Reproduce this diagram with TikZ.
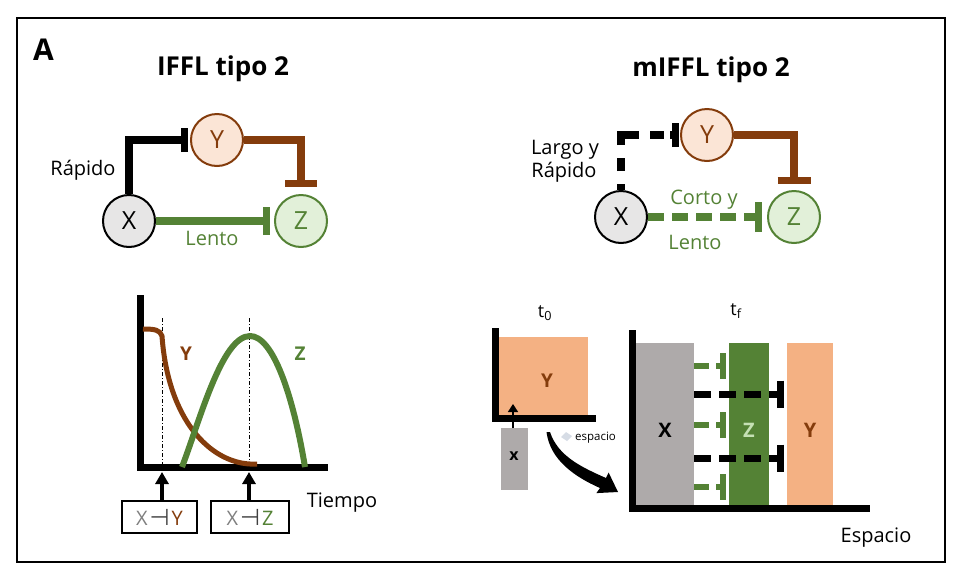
\documentclass[tikz,border=0pt]{standalone}
\usepackage{fontspec}
\setmainfont{Open Sans}
\newfontfamily\dejavu{DejaVu Sans}
\usetikzlibrary{arrows.meta}
\definecolor{brn}{RGB}{132,60,12}
\definecolor{grn}{RGB}{84,130,53}
\definecolor{lorange}{RGB}{251,229,214}
\definecolor{lgreen}{RGB}{226,240,217}
\definecolor{lgray}{RGB}{231,230,230}
\definecolor{orangebox}{RGB}{244,177,131}
\definecolor{graybox}{RGB}{174,170,170}
\definecolor{zlight}{RGB}{197,224,180}
\definecolor{xgray}{RGB}{127,127,127}
\definecolor{smudge}{RGB}{214,220,229}
\newcommand\fs[1]{\fontsize{#1}{#1}\selectfont}
\newcommand\inhsym{\hspace{2pt}{\color{black!75}\dejavu\fs{23}⊣}\hspace{2pt}}
\begin{document}
\begin{tikzpicture}[x=1pt,y=-1pt,
  gene/.style={circle, draw, line width=2pt, minimum size=52pt, inner sep=0pt, font=\fs{25}},
  lbl/.style={font=\fs{20}, inner sep=0pt, anchor=base},
  title/.style={font=\fs{26}\bfseries, inner sep=0pt, anchor=base},
  netline/.style={line width=8pt},
  barline/.style={line width=7pt},
  axisline/.style={line width=7pt},
  blk/.style={inner sep=0pt, outer sep=0pt},
  blab/.style={font=\fs{20}\bfseries, inner sep=0pt},
  tbox/.style={draw, line width=1.5pt, minimum width=75pt, minimum height=32pt, inner sep=0pt, font=\fs{20}},
  vguide/.style={line width=0.8pt, dash pattern=on 4pt off 2pt on 1pt off 2pt},
  tarrow/.style={line width=3.5pt, -{Triangle[width=13pt,length=12pt]}},
  ginh/.style={grn, line width=6pt, dash pattern=on 15pt off 7pt},
  kinh/.style={line width=7pt, dash pattern=on 17pt off 8pt},
]
\useasboundingbox (0,0) rectangle (970,582);
\draw[line width=2pt] (17,18) rectangle (945,562);

% headings
\node[font=\fs{30}\bfseries, inner sep=0pt, anchor=base west] (A) at (33,60) {A};
\node[title] (t1) at (223,75) {IFFL tipo 2};
\node[title] (t2) at (711,76) {mIFFL tipo 2};

% ---------- left network ----------
\node[gene, fill=lgray] (X1) at (129,221) {X};
\node[gene, fill=lorange, draw=brn, text=brn] (Y1) at (217,140) {Y};
\node[gene, fill=lgreen, draw=grn, text=grn] (Z1) at (301,221) {Z};
\coordinate (b1) at ([xshift=-6pt]Y1.west);
\coordinate (b2) at ([yshift=11pt]Z1.north);
\coordinate (b3) at ([xshift=-8pt]Z1.west);
\draw[netline] (X1.north) |- (b1);
\draw[barline] ([yshift=-12pt]b1) -- ([yshift=12pt]b1);
\draw[netline, brn] (Y1.east) -| (b2);
\draw[barline, brn] ([xshift=-16pt]b2) -- ([xshift=16pt]b2);
\draw[netline, grn] (X1.east) -- (b3);
\draw[barline, grn] ([yshift=-14pt]b3) -- ([yshift=14pt]b3);
\node[lbl] (rap1) at (83,175) {Rápido};
\node[lbl, text=grn] (len1) at (212,245) {Lento};

% ---------- right network ----------
\node[gene, fill=lgray] (X2) at (621,217) {X};
\node[gene, fill=lorange, draw=brn, text=brn] (Y2) at (707,135) {Y};
\node[gene, fill=lgreen, draw=grn, text=grn] (Z2) at (794,217) {Z};
\coordinate (b4) at ([xshift=-5pt]Y2.west);
\coordinate (b5) at ([yshift=10pt]Z2.north);
\coordinate (b6) at ([xshift=-9pt]Z2.west);
\draw[netline, dash pattern=on 6pt off 13pt on 13pt off 13pt on 28pt off 11pt on 14pt off 6pt on 30pt] (X2.north) |- (b4);
\draw[barline] ([yshift=-12pt]b4) -- ([yshift=12pt]b4);
\draw[netline, brn] (Y2.east) -| (b5);
\draw[barline, brn] ([xshift=-16.5pt]b5) -- ([xshift=16.5pt]b5);
\draw[netline, grn, dash pattern=on 16pt off 8pt] (X2.east) -- (b6);
\draw[barline, grn] ([yshift=-15pt]b6) -- ([yshift=15pt]b6);
\node[lbl] (lar) at (565,154) {Largo y};
\node[lbl] (rap2) at (564,177) {Rápido};
\node[lbl, text=grn] (cor) at (704,204) {Corto y};
\node[lbl, text=grn] (len2) at (695,249) {Lento};

% ---------- time plot ----------
\coordinate (o1) at (140,467);
\draw[axisline] (140,295) -- (o1) -- (328,467);
\draw[vguide] (162,318) -- (162,464);
\draw[vguide] (249,318) -- (249,464);
\draw[brn, line width=5pt] (143,329) .. controls (155,329) and (160,330) .. (162,336)
  .. controls (168,420) and (210,462) .. (250,464) -- (257,464);
\draw[grn, line width=6pt] (182,467) .. controls (200,420) and (222,336) .. (250,336)
  .. controls (273,336) and (293,395) .. (305,467);
\node[blab, font=\fs{19}\bfseries, text=brn] (ly) at (186,354) {Y};
\node[blab, font=\fs{19}\bfseries, text=grn] (lz) at (300,354) {Z};
\node[tbox] (bx1) at (159.5,517) {{\color{xgray}X}\inhsym{\color{brn}Y}};
\node[tbox, minimum width=78pt] (bx2) at (250,517) {{\color{xgray}X}\inhsym{\color{grn}Z}};
\coordinate (a1) at (162,472);
\coordinate (a2) at (249,472);
\draw[tarrow] (a1 |- bx1.north) -- (a1);
\draw[tarrow] (a2 |- bx2.north) -- (a2);
\node[lbl] (tiempo) at (342,507) {Tiempo};

% ---------- space plot t0 ----------
\node[lbl, font=\fs{18}] (t0) at (545,317) {t\textsubscript{0}};
\node[blk, fill=orangebox, minimum width=89pt, minimum height=79pt] (Yb0) at (543.5,376.5) {};
\node[blab, font=\fs{19}\bfseries, text=brn] (Yl0) at (547,381) {Y};
\draw[axisline] (495,328) |- (596,418);
\node[blk, fill=graybox, minimum width=27pt, minimum height=62pt] (Xb0) at (514.5,459) {};
\node[blab, font=\fs{16}\bfseries] (Xl0) at (514,456) {x};
\coordinate (tip0) at (513,404);
\draw[line width=1.5pt, -{Triangle[width=10pt,length=8pt]}] (tip0 |- Xb0.north) -- (tip0);
\fill[smudge] (561,437) -- (566,432) -- (572,436) -- (567,441) -- cycle;
\node[font=\fs{11.5}, inner sep=0pt, anchor=base] (esp0) at (595.5,440) {espacio};
% curved arrow
\fill (550,432) .. controls (558,456) and (581,467) .. (606,478)
  -- (608.6,472.5) -- (618,492) -- (596.4,493.1) -- (600,488)
  .. controls (575,477) and (550,460) .. (546.5,432) -- cycle;

% ---------- space plot tf ----------
\node[lbl, font=\fs{18}] (tf) at (736,315) {t\textsubscript{f}};
\node[blk, fill=graybox, minimum width=58pt, minimum height=164pt] (Xbf) at (665,425) {};
\node[blk, fill=grn, minimum width=40pt, minimum height=164pt] (Zbf) at (749,425) {};
\node[blk, fill=orangebox, minimum width=46pt, minimum height=164pt] (Ybf) at (810,425) {};
\node[blab] (Xlf) at (665,430) {X};
\node[blab, text=zlight] (Zlf) at (749,430) {Z};
\node[blab, text=brn] (Ylf) at (810,430) {Y};
\draw[axisline] (632,330) |- (870,508);
% inhibitions X -| Z (green)
\foreach \yy in {366,425,487}{
  \draw[ginh] (694,\yy) -- (723,\yy);
  \draw[grn, line width=6pt] (723,\yy-13) -- (723,\yy+13);
}
% inhibitions X -| Y (black)
\foreach \yy in {394,458}{
  \draw[kinh] (694,\yy) -- (780,\yy);
  \draw[line width=7pt] (780,\yy-13.5) -- (780,\yy+13.5);
}
\node[lbl] (espf) at (876,542) {Espacio};
\end{tikzpicture}
\end{document}
